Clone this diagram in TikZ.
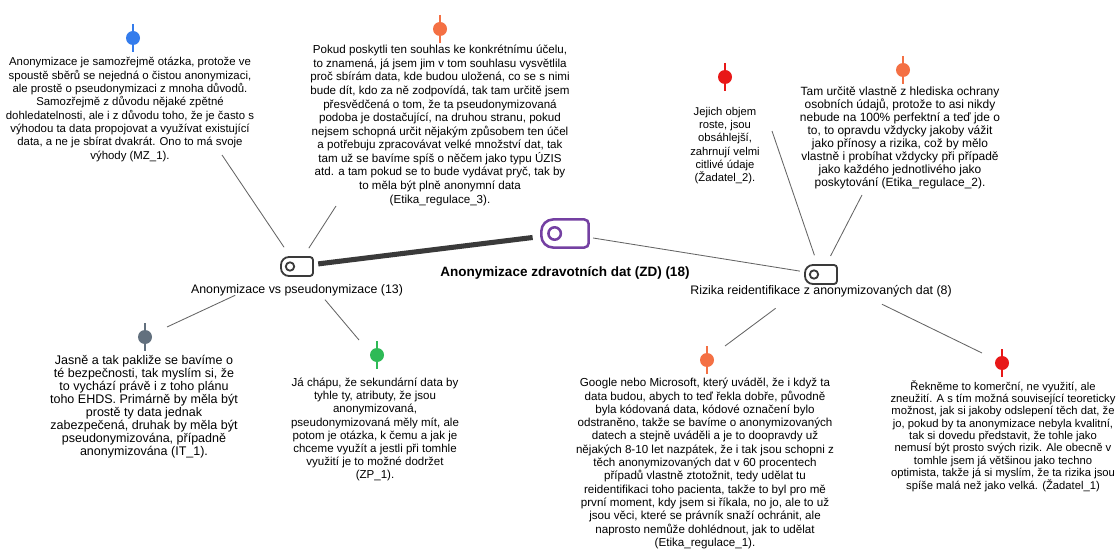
\documentclass[tikz,border=0pt]{standalone}
\usepackage{fontspec}
\setmainfont{Liberation Sans}

\definecolor{pinblue}{RGB}{52,124,236}
\definecolor{pinorange}{RGB}{244,112,68}
\definecolor{pinred}{RGB}{232,24,24}
\definecolor{pingray}{RGB}{98,112,126}
\definecolor{pingreen}{RGB}{46,186,86}
\definecolor{hubpurple}{RGB}{116,64,162}
\definecolor{hubgray}{RGB}{58,58,58}
\definecolor{linegray}{RGB}{100,100,100}

\newcommand{\hubicon}[4]{%
  \begin{scope}[shift={(#1)},x={(#2*0.025cm,0)},y={(0,#2*0.025cm)}]
    \draw[#3,line width=#4] (13,9.5) -- (-8,9.5) arc[start angle=90,end angle=180,radius=8]
      -- (-16,-1.5) arc[start angle=180,end angle=270,radius=8]
      -- (13,-9.5) arc[start angle=270,end angle=360,radius=3]
      -- (16,6.5) arc[start angle=0,end angle=90,radius=3] -- cycle;
    \draw[#3,line width=#4] (-7,0) circle[radius=4.2];
  \end{scope}}
\newcommand{\txtsize}[2]{\fontsize{#1}{#2}\selectfont\lineskiplimit=-10pt}

\begin{document}
\begin{tikzpicture}
[x=0.025cm,y=-0.025cm]
\tikzset{hub/.style={circle,inner sep=0pt,minimum size=0pt}}
\tikzset{hublabel/.style={inner sep=0pt,font=\fontsize{8.8}{10}\selectfont}}
\tikzset{pindot/.style={circle,inner sep=0pt,minimum size=0.35cm}}
\tikzset{txt/.style={anchor=north,align=center,inner sep=0pt}}
\tikzset{conn/.style={draw=linegray,line width=0.6pt}}
\useasboundingbox (0,0) rectangle (1118,551);

\node [hub] (h1) at (297,266.5) {};
\node [hub] (h2) at (565,233.5) {};
\node [hub] (h3) at (821,274.5) {};
\hubicon{h1}{1}{hubgray}{1.3pt}
\hubicon{h2}{1.48}{hubpurple}{1.8pt}
\hubicon{h3}{1}{hubgray}{1.3pt}
\node [hublabel] (l1) at (297,290) {Anonymizace vs pseudonymizace (13)};
\node [hublabel,font=\fontsize{9.6}{11}\selectfont\bfseries] (l2) at (565,273) {Anonymizace zdravotních dat (ZD) (18)};
\node [hublabel] (l3) at (821,291) {Rizika reidentifikace z anonymizovaných dat (8)};

\node [pindot,fill=pinblue] (p1) at (133,38) {};
\node [pindot,fill=pinorange] (p2) at (440,29) {};
\node [pindot,fill=pinred] (p3) at (725,77) {};
\node [pindot,fill=pinorange] (p4) at (903,70) {};
\node [pindot,fill=pingray] (p5) at (145,337) {};
\node [pindot,fill=pingreen] (p6) at (377,355) {};
\node [pindot,fill=pinorange] (p7) at (707,360) {};
\node [pindot,fill=pinred] (p8) at (1002,363) {};
\foreach \p/\c in {p1/pinblue,p2/pinorange,p3/pinred,p4/pinorange,p5/pingray,p6/pingreen,p7/pinorange,p8/pinred}
	\draw [\c,line width=1.3pt] (\p) ++(0,-14) -- ++(0,28);

\node [txt,font=\txtsize{8.1}{9.5}] (t1) at (130,57) {Anonymizace je samozřejmě otázka, protože ve\\
spoustě sběrů se nejedná o čistou anonymizaci,\\
ale prostě o pseudonymizaci z mnoha důvodů.\\
Samozřejmě z důvodu nějaké zpětné\\
dohledatelnosti, ale i z důvodu toho, že je často s\\
výhodou ta data propojovat a využívat existující\\
data, a ne je sbírat dvakrát. Ono to má svoje\\
výhody (MZ\_1).};
\node [txt,font=\txtsize{8.25}{9.65}] (t2) at (440,45) {Pokud poskytli ten souhlas ke konkrétnímu účelu,\\
to znamená, já jsem jim v tom souhlasu vysvětlila\\
proč sbírám data, kde budou uložená, co se s nimi\\
bude dít, kdo za ně zodpovídá, tak tam určitě jsem\\
přesvědčená o tom, že ta pseudonymizovaná\\
podoba je dostačující, na druhou stranu, pokud\\
nejsem schopná určit nějakým způsobem ten účel\\
a potřebuju zpracovávat velké množství dat, tak\\
tam už se bavíme spíš o něčem jako typu ÚZIS\\
atd. a tam pokud se to bude vydávat pryč, tak by\\
to měla být plně anonymní data\\
(Etika\_regulace\_3).};
\node [txt,font=\txtsize{8.0}{9.4}] (t3) at (725,107) {Jejich objem\\
roste, jsou\\
obsáhlejší,\\
zahrnují velmi\\
citlivé údaje\\
(Žadatel\_2).};
\node [txt,font=\txtsize{8.5}{9.15}] (t4) at (900,87) {Tam určitě vlastně z hlediska ochrany\\
osobních údajů, protože to asi nikdy\\
nebude na 100\% perfektní a teď jde o\\
to, to opravdu vždycky jakoby vážit\\
jako přínosy a rizika, což by mělo\\
vlastně i probíhat vždycky při případě\\
jako každého jednotlivého jako\\
poskytování (Etika\_regulace\_2).};
\node [txt,font=\txtsize{8.9}{9.2}] (t5) at (144,355) {Jasně a tak pakliže se bavíme o\\
té bezpečnosti, tak myslím si, že\\
to vychází právě i z toho plánu\\
toho EHDS. Primárně by měla být\\
prostě ty data jednak\\
zabezpečená, druhak by měla být\\
pseudonymizována, případně\\
anonymizována (IT\_1).};
\node [txt,font=\txtsize{8.2}{9.3}] (t6) at (375,378) {Já chápu, že sekundární data by\\
tyhle ty, atributy, že jsou\\
anonymizovaná,\\
pseudonymizovaná měly mít, ale\\
potom je otázka, k čemu a jak je\\
chceme využít a jestli při tomhle\\
využití je to možné dodržet\\
(ZP\_1).};
\node [txt,font=\txtsize{8.25}{9.45}] (t7) at (705,378) {Google nebo Microsoft, který uváděl, že i když ta\\
data budou, abych to teď řekla dobře, původně\\
byla kódovaná data, kódové označení bylo\\
odstraněno, takže se bavíme o anonymizovaných\\
datech a stejně uváděli a je to doopravdy už\\
nějakých 8-10 let nazpátek, že i tak jsou schopni z\\
těch anonymizovaných dat v 60 procentech\\
případů vlastně ztotožnit, tedy udělat tu\\
reidentifikaci toho pacienta, takže to byl pro mě\\
první moment, kdy jsem si říkala, no jo, ale to už\\
jsou věci, které se právník snaží ochránit, ale\\
naprosto nemůže dohlédnout, jak to udělat\\
(Etika\_regulace\_1).};
\node [txt,font=\txtsize{8.0}{8.8}] (t8) at (1003,380) {Řekněme to komerční, ne využití, ale\\
zneužití. A s tím možná související teoreticky\\
možnost, jak si jakoby odslepení těch dat, že\\
jo, pokud by ta anonymizace nebyla kvalitní,\\
tak si dovedu představit, že tohle jako\\
nemusí být prosto svých rizik. Ale obecně v\\
tomhle jsem já většinou jako techno\\
optimista, takže já si myslím, že ta rizika jsou\\
spíše malá než jako velká. (Žadatel\_1)};

\coordinate (c1) at (222,155);
\coordinate (c2) at (336,206);
\coordinate (c3) at (772,131);
\coordinate (c4) at (862,195);
\coordinate (c5) at (167,327);
\coordinate (c6) at (359,340);
\coordinate (c7) at (725,346);
\coordinate (c8) at (982,353);
\foreach \from/\to/\s in {c1/h1/16.3pt,c2/h1/15.3pt,c3/h3/14.3pt,c4/h3/14.6pt,c5/h1/48.3pt,c6/h1/30.7pt,c7/h3/40pt,c8/h3/48pt}
	\draw [conn,shorten >=\s] (\from) -- (\to);
\draw [hubgray,line width=3.6pt,shorten <=15pt,shorten >=23pt] (h1) -- (h2);
\draw [conn,shorten <=20pt,shorten >=15pt] (h2) -- (h3);
\end{tikzpicture}
\end{document}
